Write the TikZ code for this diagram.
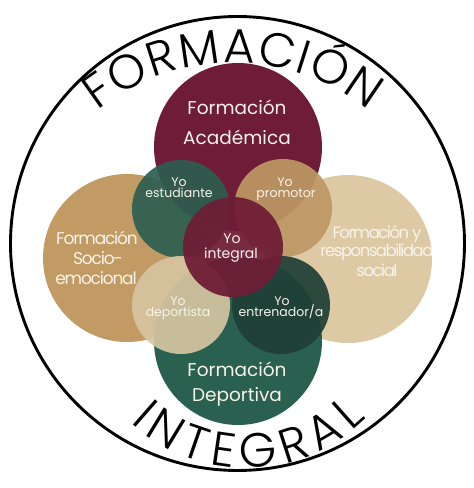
\documentclass[tikz,border=0pt]{standalone}
\usepackage{fontspec}
\setmainfont{Poppins}
\newfontfamily\ringfont{Poppins Light}
\usetikzlibrary{decorations.text}
\definecolor{maroonA}{HTML}{6F1C38}
\definecolor{maroonB}{HTML}{6E1D36}
\definecolor{tanA}{HTML}{C19B63}
\definecolor{tanB}{HTML}{BE9864}
\definecolor{beigeA}{HTML}{DDCAA5}
\definecolor{beigeB}{HTML}{D6C5A1}
\definecolor{greenA}{HTML}{2A6050}
\definecolor{greenB}{HTML}{2D5E50}
\definecolor{greenC}{HTML}{1F3F35}
\definecolor{txtc}{HTML}{F8F3EA}
\begin{document}
\begin{tikzpicture}[x=1pt,y=1pt,
  disc/.style={circle, inner sep=0pt, minimum size=#1, draw=none},
  bigdisc/.style={disc=168pt},
  smalldisc/.style={disc=98pt, fill opacity=0.92},
  lbl/.style={text=txtc, inner sep=0pt, anchor=base},
  bigf/.style={font=\fontsize{18.5}{20}\selectfont},
  sidef/.style={font=\fontsize{17}{18}\selectfont\addfontfeatures{LetterSpace=-7}},
  sidefn/.style={font=\fontsize{16.5}{18}\selectfont\addfontfeatures{LetterSpace=-9}},
  smallf/.style={font=\fontsize{12.5}{13}\selectfont},
  midf/.style={font=\fontsize{14}{15}\selectfont}
]
\useasboundingbox (0,0) rectangle (474,488);
% outer ring
\node[circle, inner sep=0pt, minimum size=454pt, draw=black, line width=2.9pt] (ring) at (237.5,244.5) {};
% big circles
\node[bigdisc, fill=tanA] (socio) at (127,230) {};
\node[bigdisc, fill=beigeA] (social) at (348,229) {};
\node[bigdisc, fill=maroonA] (acad) at (238,341) {};
\node[bigdisc, fill=greenA] (dep) at (238,147) {};
% small circles
\node[smalldisc, fill=greenB] (estud) at (181,279) {};
\node[smalldisc, fill=tanB] (promo) at (283,280) {};
\node[smalldisc, fill=beigeB] (depor) at (181,183) {};
\node[smalldisc, fill=greenC] (entre) at (281,183) {};
\node[disc=100pt, fill=maroonB, fill opacity=0.94] (integ) at (233,241) {};
% labels big
\node[lbl, bigf] (acad1) at (237,373) {Formación};
\node[lbl, bigf] (acad2) at (237,343) {Académica};
\node[lbl, bigf] (dep1) at (237,111) {Formación};
\node[lbl, bigf] (dep2) at (237,86) {Deportiva};
\node[lbl, sidef] (soc1) at (97,243) {Formación};
\node[lbl, sidef] (soc2) at (98,223) {Socio-};
\node[lbl, sidef] (soc3) at (96,203) {emocional};
\node[lbl, sidefn] (res1) at (377,249) {Formación y};
\node[lbl, sidefn] (res2) at (377,231) {responsabilidad};
\node[lbl, sidefn] (res3) at (377,211) {social};
% labels small
\node[lbl, smallf] (est1) at (179,301) {Yo};
\node[lbl, smallf] (est2) at (179,290) {estudiante};
\node[lbl, smallf] (pro1) at (285,301) {Yo};
\node[lbl, smallf] (pro2) at (286,290) {promotor};
\node[lbl, midf] (int1) at (232,244) {Yo};
\node[lbl, midf] (int2) at (231,229) {integral};
\node[lbl, smallf] (dpt1) at (178,182) {Yo};
\node[lbl, smallf] (dpt2) at (178,171) {deportista};
\node[lbl, smallf] (ent1) at (282,182) {Yo};
\node[lbl, smallf] (ent2) at (281,171) {entrenador/a};
% ring texts
\path[decorate, decoration={text along path, text={|\ringfont\fontsize{48}{48}\selectfont|FORMACIÓN}, text align={fit to path}}]
  (233,207) ++(128.5:218) arc[start angle=128.5, end angle=51.5, radius=218];
\path[decorate, decoration={text along path, text={|\ringfont\fontsize{48}{48}\selectfont|INTEGRAL}, text align={fit to path}}]
  (246,190) ++(227:170) arc[start angle=227, end angle=315, radius=170];
\end{tikzpicture}
\end{document}
